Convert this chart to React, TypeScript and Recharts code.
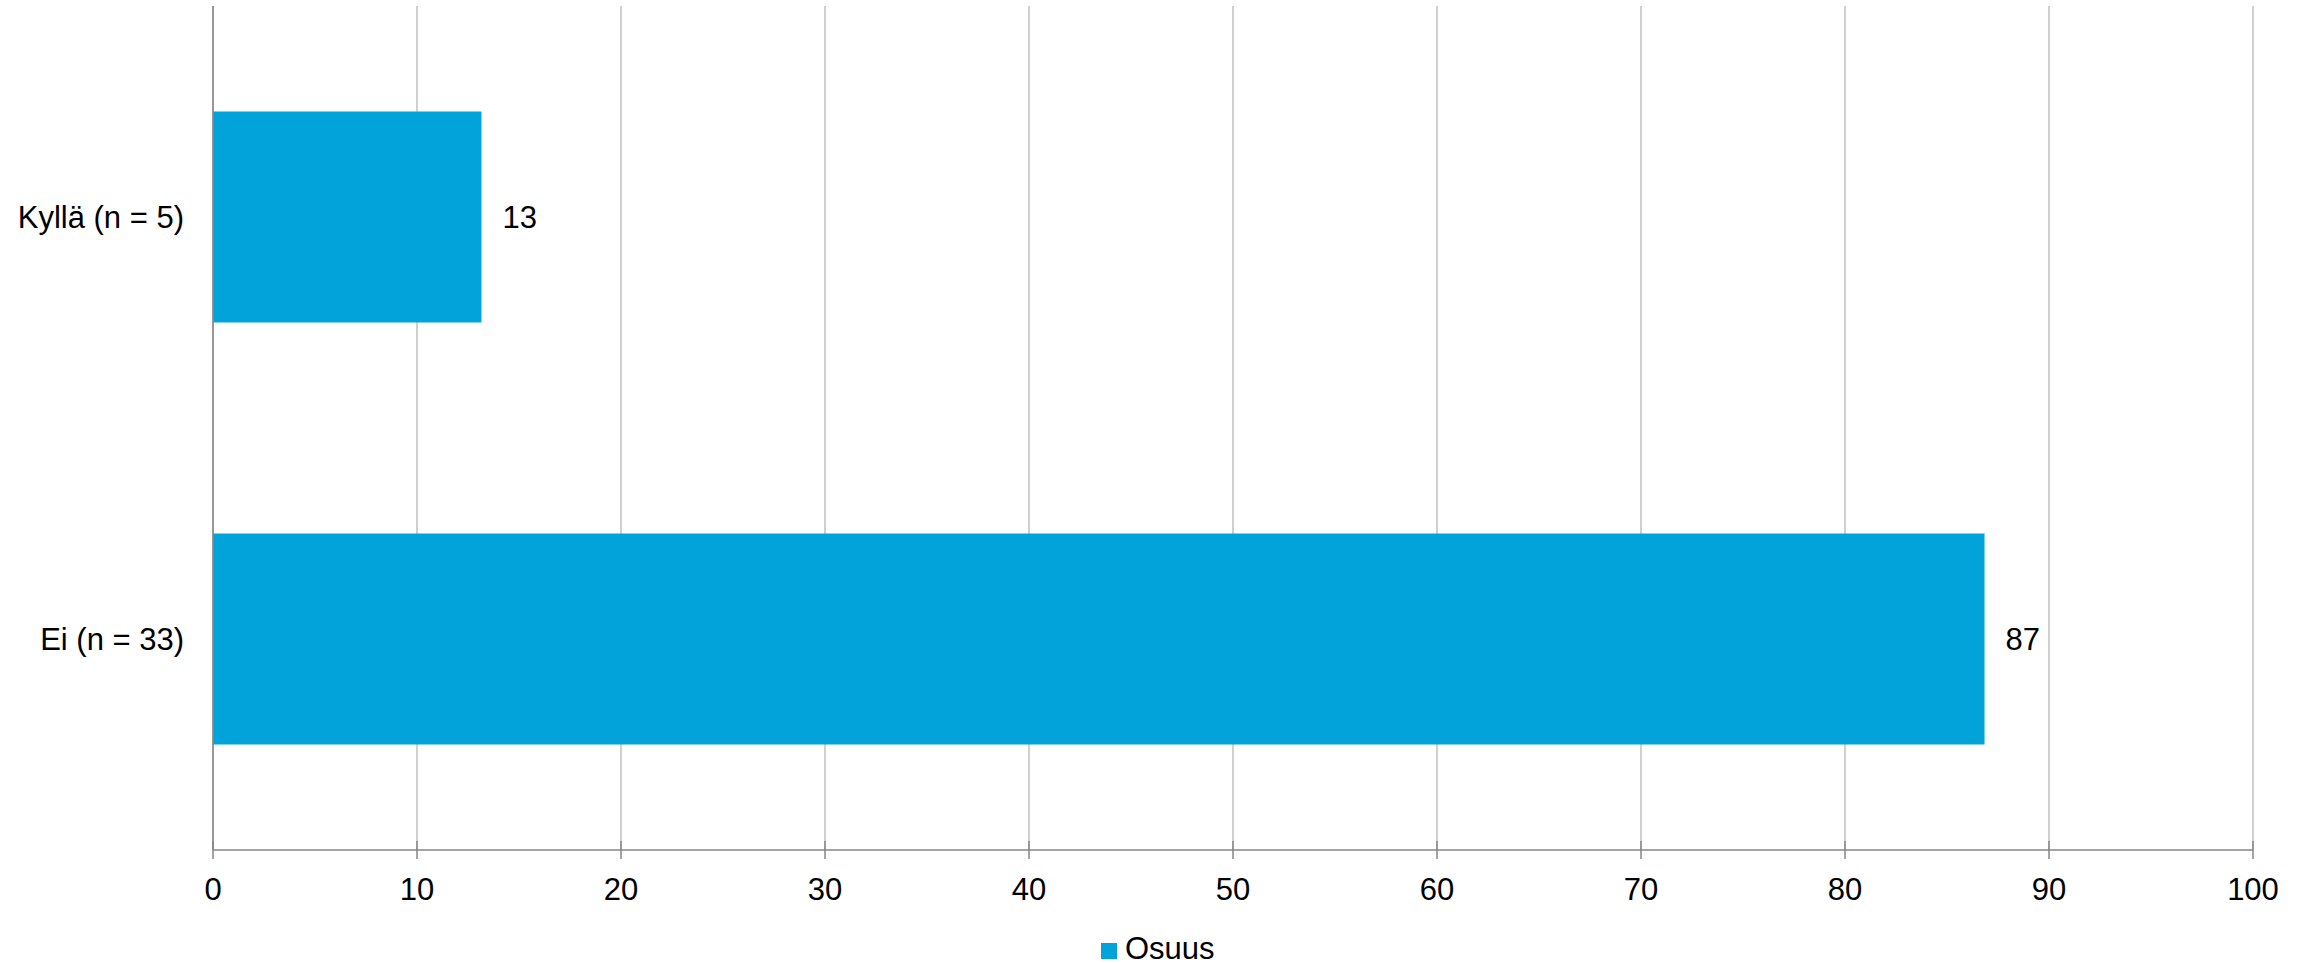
import { BarChart, Bar, XAxis, YAxis, CartesianGrid, Legend, LabelList } from 'recharts';

const categories = ['Kyllä (n = 5)', 'Ei (n = 33)'];
const osuus = [13.16, 86.84];
const xTicks = [0, 10, 20, 30, 40, 50, 60, 70, 80, 90, 100];

const data = categories.map((name, i) => ({ name, Osuus: osuus[i] }));

const FONT = '"Liberation Sans", Arial, sans-serif';
const AXIS = '#868686';
const FS = 31;

// tick mark crosses the axis line, like the original
function XTick({ x, y, payload }: any) {
  return (
    <g>
      <line x1={x} x2={x} y1={y - 37} y2={y - 19} stroke={AXIS} strokeWidth={1.5} />
      <text x={x} y={y} dy="0.71em" textAnchor="middle" fontSize={FS} fontFamily={FONT} fill="#000">
        {payload.value}
      </text>
    </g>
  );
}

export default function App() {
  return (
    <div style={{ position: 'absolute', left: 0, top: 0, background: '#fff' }}>
      <BarChart
        width={2307}
        height={963}
        data={data}
        layout="vertical"
        margin={{ top: 6, right: 54, bottom: 53, left: 0 }}
        barCategoryGap="25%"
      >
        <CartesianGrid horizontal={false} stroke="#c0c0c0" strokeWidth={1.5} />
        <XAxis
          type="number"
          domain={[0, 100]}
          ticks={xTicks}
          interval={0}
          height={60}
          stroke={AXIS}
          axisLine={{ stroke: AXIS, strokeWidth: 1.5 }}
          tickLine={false}
          tickSize={9}
          tickMargin={19}
          tick={<XTick />}
        />
        <YAxis
          type="category"
          dataKey="name"
          width={213}
          axisLine={{ stroke: AXIS, strokeWidth: 1.5 }}
          tickLine={false}
          tickSize={0}
          tickMargin={29}
          tick={{ fontSize: FS, fontFamily: FONT, fill: '#000' }}
        />
        <Legend
          verticalAlign="middle"
          align="center"
          layout="horizontal"
          iconType="square"
          iconSize={16}
          wrapperStyle={{ top: 931, left: 1101, width: 'auto', fontFamily: FONT, fontSize: FS }}
          formatter={(v: string) => <span style={{ color: '#000', marginLeft: 4 }}>{v}</span>}
        />
        <Bar dataKey="Osuus" fill="#02a3da" isAnimationActive={false}>
          <LabelList
            dataKey="Osuus"
            position="right"
            offset={21}
            fontSize={FS}
            fontFamily={FONT}
            fill="#000"
            formatter={(v: any) => Math.round(Number(v))}
          />
        </Bar>
      </BarChart>
    </div>
  );
}
